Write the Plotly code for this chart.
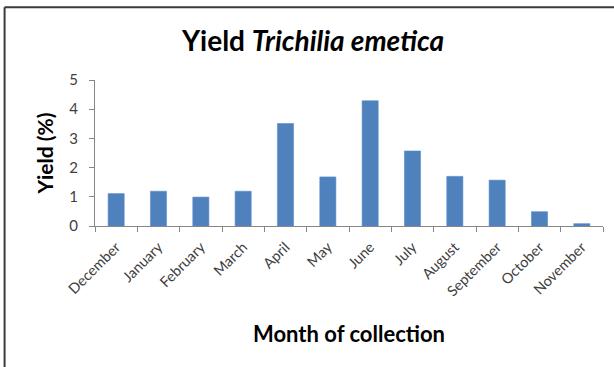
import plotly.graph_objects as go

months = ["December", "January", "February", "March", "April", "May",
          "June", "July", "August", "September", "October", "November"]
yield_pct = [1.11, 1.19, 0.99, 1.19, 3.51, 1.68, 4.29, 2.57, 1.70, 1.57, 0.49, 0.08]
y_ticks = [0, 1, 2, 3, 4, 5]

FONT = "Lato, 'Open Sans', sans-serif"
W, H = 614, 367
L, R_PX, T, B_PX = 95, 603.5, 80, 225.7

fig = go.Figure()
fig.add_trace(go.Bar(
    x=months, y=yield_pct,
    marker=dict(color="#4F81BD", line=dict(color="#5a8ccc", width=0.6)),
    width=0.38,
))

pw = R_PX - L
ph = B_PX - T

def px2x(px):
    return (px - L) / pw

def py2y(py):
    return (B_PX - py) / ph

frame_left = px2x(4.5)
frame_top = py2y(7.5)

fig.update_layout(
    width=W, height=H,
    margin=dict(l=L, r=W - R_PX, t=T, b=H - B_PX, pad=0),
    paper_bgcolor="white", plot_bgcolor="white",
    showlegend=False,
    font=dict(family=FONT, color="#404040"),
    title=dict(
        text="<b>Yield <i>Trichilia emetica</i></b>",
        x=313 / W, xanchor="center", xref="container",
        y=1 - 41 / H, yanchor="middle", yref="container",
        font=dict(size=28, color="#000000", family=FONT),
    ),
    xaxis=dict(
        showline=True, linecolor="#868686", linewidth=1,
        ticks="outside", ticklen=5, tickcolor="#868686",
        tickson="boundaries",
        tickangle=-45, tickfont=dict(size=14.5, color="#404040"),
        ticklabelstandoff=6,
        showgrid=False,
        title=dict(text="<b>Month of collection</b>",
                   font=dict(size=22, color="#000000"), standoff=28),
    ),
    yaxis=dict(
        range=[0, 5], tickvals=y_ticks,
        showline=True, linecolor="#868686", linewidth=1,
        ticks="outside", ticklen=5, tickcolor="#868686",
        tickfont=dict(size=15, color="#404040"),
        showgrid=False, zeroline=False,
        ticklabelstandoff=8,
        title=dict(text="<b>Yield (%)</b>",
                   font=dict(size=21, color="#000000"), standoff=9),
    ),
    shapes=[
        dict(type="line", xref="paper", yref="paper",
             x0=frame_left, x1=frame_left, y0=-2, y1=frame_top,
             line=dict(color="#3a3a3a", width=2)),
        dict(type="line", xref="paper", yref="paper",
             x0=frame_left, x1=1.2, y0=frame_top, y1=frame_top,
             line=dict(color="#3a3a3a", width=2)),
    ],
)

fig.write_html("out.html")
